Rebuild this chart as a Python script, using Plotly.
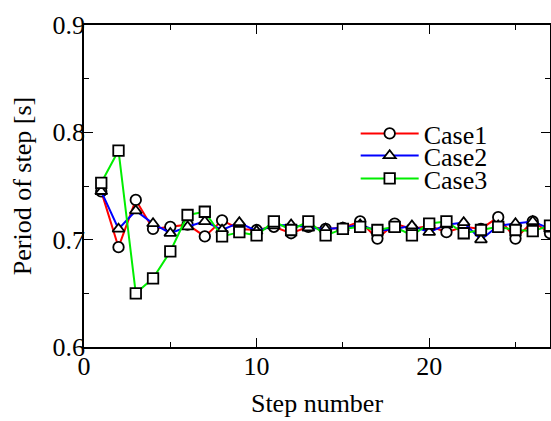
import plotly.graph_objects as go

steps = list(range(1, 28))
case1 = [0.745, 0.693, 0.737, 0.710, 0.712, 0.714, 0.703, 0.718, 0.710, 0.709,
         0.712, 0.706, 0.712, 0.710, 0.711, 0.717, 0.701, 0.715, 0.710, 0.713,
         0.707, 0.712, 0.710, 0.721, 0.701, 0.717, 0.706]
case2 = [0.745, 0.710, 0.727, 0.715, 0.706, 0.712, 0.717, 0.709, 0.716, 0.708,
         0.713, 0.714, 0.711, 0.710, 0.711, 0.714, 0.708, 0.710, 0.713, 0.707,
         0.714, 0.716, 0.700, 0.713, 0.715, 0.717, 0.710]
case3 = [0.753, 0.783, 0.650, 0.664, 0.689, 0.723, 0.726, 0.703, 0.707, 0.704,
         0.717, 0.709, 0.717, 0.704, 0.710, 0.712, 0.709, 0.712, 0.704, 0.715,
         0.717, 0.706, 0.709, 0.712, 0.709, 0.708, 0.713]

series = [
    ("Case1", case1, "#ff0000", "circle", "legend"),
    ("Case2", case2, "#0000ff", "triangle-up", "legend2"),
    ("Case3", case3, "#00ee00", "square", "legend3"),
]

FONT = "Liberation Serif"

fig = go.Figure()
for name, vals, col, sym, leg in series:
    fig.add_trace(go.Scatter(
        x=steps, y=vals, name=name, mode="lines+markers", legend=leg,
        line=dict(color=col, width=2),
        marker=dict(symbol=sym, size=10.5, color="white",
                    line=dict(color="black", width=1.8)),
    ))

axis_common = dict(
    showline=True, linecolor="black", linewidth=1.5, mirror="ticks",
    ticks="inside", ticklen=9, tickwidth=1.2, tickcolor="black",
    showgrid=False, zeroline=False, automargin=False,
    tickfont=dict(family=FONT, size=26, color="black"),
)

fig.update_xaxes(
    range=[0, 27], tickvals=[0, 10, 20], ticklabelstandoff=-5,
    minor=dict(tickvals=[5, 15, 25], ticklen=5, ticks="inside", tickcolor="black", tickwidth=1.2),
    title=dict(text="Step number", font=dict(family=FONT, size=26, color="black"), standoff=14),
    **axis_common,
)
fig.update_yaxes(
    range=[0.6, 0.9], tickvals=[0.6, 0.7, 0.8, 0.9], tickformat=".1f",
    ticklabelstandoff=-8,
    minor=dict(tickvals=[0.65, 0.75, 0.85], ticklen=5, ticks="inside", tickcolor="black", tickwidth=1.2),
    title=dict(text="Period of step [s]", font=dict(family=FONT, size=26, color="black"), standoff=13),
    **axis_common,
)

legstyle = dict(xanchor="left", yanchor="middle",
                font=dict(family=FONT, size=26, color="black"),
                bgcolor="rgba(0,0,0,0)", itemwidth=58)
lx = 0.583
fig.update_layout(
    width=551, height=421,
    margin=dict(l=84, r=1, t=25, b=74),
    paper_bgcolor="white", plot_bgcolor="white",
    showlegend=True,
    legend=dict(x=lx, y=(347 - 133.5) / 322, **legstyle),
    legend2=dict(x=lx, y=(347 - 155.5) / 322, **legstyle),
    legend3=dict(x=lx, y=(347 - 178.5) / 322, **legstyle),
)

fig.write_html("out.html", config={"displayModeBar": False},
               post_script="document.body.style.margin='0';document.body.style.overflow='hidden';")
